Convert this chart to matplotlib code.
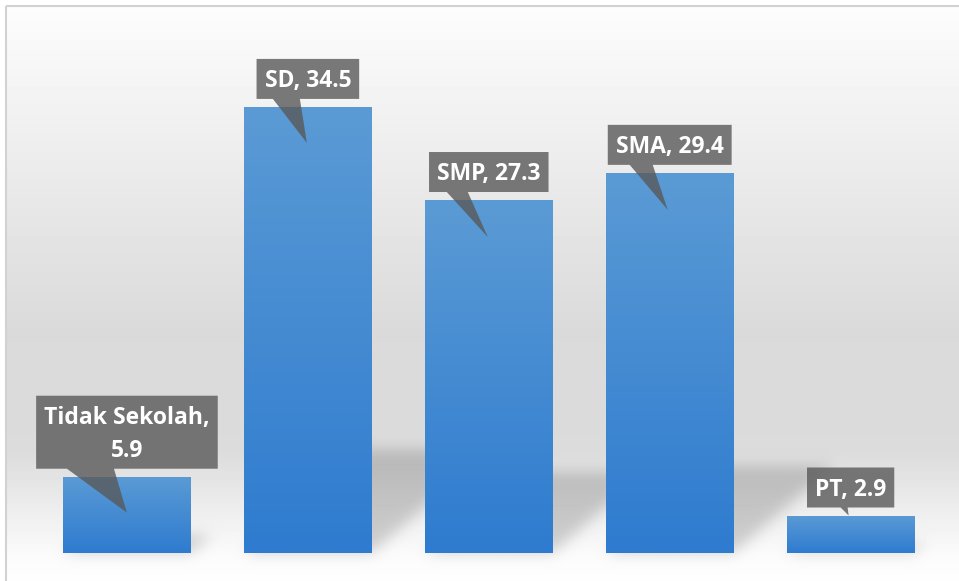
import textwrap
import numpy as np
import matplotlib
matplotlib.use('Agg')
import matplotlib.pyplot as plt
from matplotlib.path import Path
from matplotlib.patches import Polygon
from matplotlib.colors import LinearSegmentedColormap

categories = ['Tidak Sekolah', 'SD', 'SMP', 'SMA', 'PT']
values = [5.9, 34.5, 27.3, 29.4, 2.9]

# callout layout (pixels): tip offset below bar top, pointer base relative to box centre
tip_offsets = [(0, 36), (-1, 36), (-1, 37), (-2, 37), (-2, 0)]
pointer_bases = [(-60, -13), (-35, -8), (-42, -21), (-40, -17), (-10, -3)]

W, H, DPI = 959, 581, 100
fig = plt.figure(figsize=(W / DPI, H / DPI), dpi=DPI)
fig.patch.set_facecolor('white')

bg = fig.add_axes([0, 0, 1, 1], zorder=0)
ax = fig.add_axes([5 / W, (H - 553) / H, (W - 5) / W, 548 / H], zorder=1)
ax.patch.set_alpha(0)

bars = ax.bar(range(len(values)), values, width=0.707, color='none', edgecolor='none')

# gradient fill for each bar
bar_cmap = LinearSegmentedColormap.from_list('bar', ['#5b9bd5', '#2e7bcf'])
grad = np.linspace(0, 1, 256)[:, None]
for b in bars:
    im = ax.imshow(grad, cmap=bar_cmap, extent=(b.get_x(), b.get_x() + b.get_width(), 0, b.get_height()),
                   origin='upper', aspect='auto', zorder=2, interpolation='bilinear')
    im.set_clip_path(b)

ax.set_xlim(-0.674, 4.599)
ax.set_ylim(0, 548 / 12.93)
ax.axis('off')

# background: vertical gradient + blurred perspective shadows behind bars
rows = np.arange(H)
col = np.interp(rows, [0, 8, 150, 330, 450, 555, H], [0.99, 0.99, 0.93, 0.855, 0.86, 0.985, 0.995])
img = np.repeat(col[:, None], W, axis=1)

yy, xx = np.mgrid[0:H, 0:W]
pts = np.column_stack([xx.ravel() + 0.5, yy.ravel() + 0.5])
mask = np.zeros(H * W)
for b in bars:
    (x0, y0), (x1, y1) = ax.transData.transform([(b.get_x(), 0), (b.get_x() + b.get_width(), b.get_height())])
    base = H - y0
    hs = 0.23 * (y1 - y0)
    dx = 1.15 * hs
    poly = Path([(x0, base), (x1, base), (x1 + dx, base - hs), (x0 + dx, base - hs)])
    mask = np.maximum(mask, poly.contains_points(pts).astype(float))
mask = mask.reshape(H, W)


def blur(a, sigma):
    r = int(3 * sigma)
    k = np.exp(-0.5 * (np.arange(-r, r + 1) / sigma) ** 2)
    k /= k.sum()
    a = np.apply_along_axis(lambda m: np.convolve(m, k, mode='same'), 0, a)
    a = np.apply_along_axis(lambda m: np.convolve(m, k, mode='same'), 1, a)
    return a


mask = blur(mask, 7)
img = img * (1 - 0.17 * mask)
img[:5, :] = 1.0
img[:, :5] = 1.0
bg.imshow(img, cmap='gray', vmin=0, vmax=1, extent=(0, W, H, 0), aspect='auto', interpolation='nearest')
bg.plot([5.5, 5.5], [H, 5.5], color='#d2d2d2', lw=1.5, solid_capstyle='butt')
bg.plot([5.5, W], [5.5, 5.5], color='#d2d2d2', lw=1.5, solid_capstyle='butt')
bg.set_xlim(0, W)
bg.set_ylim(H, 0)
bg.axis('off')

# callout data labels
fs = 16.5
cap = 0.714 * fs * DPI / 72
line_step = 33
renderer = fig.canvas.get_renderer()
for i, (cat, v) in enumerate(zip(categories, values)):
    label = textwrap.fill(f'{cat}, {v}', 14)
    lines = label.split('\n')
    bx, by = ax.transData.transform((i, v))
    box_h = 7 + line_step * len(lines)
    box_bottom = by + 8
    box_top = box_bottom + box_h
    cy = (box_bottom + box_top) / 2
    texts = []
    for j, line in enumerate(lines):
        base_y = cy + (len(lines) - 1) / 2 * line_step - j * line_step - cap / 2
        t = fig.text(bx / W, base_y / H, line, ha='center', va='baseline', color='white',
                     fontsize=fs, fontweight='bold', family='Open Sans', zorder=5)
        texts.append(t)
    tw = max(t.get_window_extent(renderer).width for t in texts)
    half = tw / 2 + 8
    tdx, tdy = tip_offsets[i]
    pl, pr = pointer_bases[i]
    verts = [(bx - half, box_top), (bx + half, box_top), (bx + half, box_bottom),
             (bx + pr, box_bottom), (bx + tdx, by - tdy), (bx + pl, box_bottom),
             (bx - half, box_bottom)]
    verts = [(x / W, y / H) for x, y in verts]
    fig.add_artist(Polygon(verts, closed=True, facecolor='#595959', alpha=0.8,
                           edgecolor='none', transform=fig.transFigure, zorder=4))

fig.savefig('out.png', dpi=DPI)
